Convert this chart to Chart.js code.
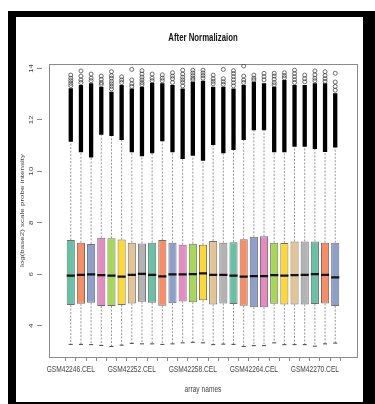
<!DOCTYPE html>
<html><head><meta charset="utf-8">
<script src="https://cdn.jsdelivr.net/npm/chart.js@4.4.1/dist/chart.umd.min.js"></script>
<style>
html,body{margin:0;padding:0;background:#fff;width:375px;height:404px;overflow:hidden;}
#outer{position:absolute;left:8px;top:11px;width:367px;height:393px;background:#000;}
#inner{position:absolute;left:16px;top:17px;width:347px;height:385px;background:#fff;}
#wrap{position:absolute;left:0;top:0;width:375px;height:404px;}
</style></head><body>
<div id="outer"></div><div id="inner"></div>
<div id="wrap"><canvas id="c" width="375" height="404"></canvas></div>
<script>
const arrayNames = ['GSM42246.CEL','GSM42247.CEL','GSM42248.CEL','GSM42249.CEL','GSM42250.CEL','GSM42251.CEL',
 'GSM42252.CEL','GSM42253.CEL','GSM42254.CEL','GSM42255.CEL','GSM42256.CEL','GSM42257.CEL',
 'GSM42258.CEL','GSM42259.CEL','GSM42260.CEL','GSM42261.CEL','GSM42262.CEL','GSM42263.CEL',
 'GSM42264.CEL','GSM42265.CEL','GSM42266.CEL','GSM42267.CEL','GSM42268.CEL','GSM42269.CEL',
 'GSM42270.CEL','GSM42271.CEL','GSM42272.CEL'];
const shownLabelIndex = [0, 6, 12, 18, 24];
const q1 = [4.81,4.86,4.90,4.77,4.77,4.81,4.87,4.94,4.90,4.78,4.88,4.95,4.92,4.99,4.83,4.87,4.85,4.78,4.72,4.72,4.86,4.83,4.83,4.83,4.85,4.87,4.77];
const median = [5.95,5.98,6.00,5.97,5.95,5.91,5.98,6.02,5.98,5.92,6.00,6.00,6.01,6.04,5.98,5.98,5.95,5.91,5.93,5.93,5.97,5.95,5.97,5.98,6.01,5.98,5.88];
const q3 = [7.33,7.23,7.18,7.42,7.40,7.35,7.23,7.20,7.23,7.33,7.23,7.15,7.19,7.15,7.30,7.23,7.25,7.36,7.46,7.48,7.23,7.22,7.28,7.28,7.28,7.23,7.23];
const whiskerLow = [3.28,3.28,3.27,3.24,3.20,3.25,3.32,3.30,3.30,3.28,3.30,3.34,3.36,3.34,3.27,3.29,3.28,3.20,3.23,3.23,3.34,3.27,3.27,3.27,3.21,3.30,3.33];
const whiskerHigh = [11.15,10.74,10.54,11.42,11.37,11.22,10.74,10.59,10.70,11.17,10.74,10.48,10.61,10.41,11.02,10.70,10.83,11.22,11.60,11.60,10.74,10.74,10.96,10.96,10.87,10.75,10.93];
const denseOutlierTop = [13.23,13.35,13.42,13.29,13.09,13.35,13.22,13.29,13.44,13.42,13.35,13.22,13.48,13.52,13.29,13.29,13.22,13.35,13.48,13.42,13.29,13.55,13.35,13.35,13.42,13.42,13.03];
const sparseOutliers = [
 [13.74,13.62,13.52,13.42,13.33],
 [13.90,13.70,13.55,13.45],
 [13.78,13.62,13.52],
 [13.70,13.57,13.45,13.38],
 [13.87,13.72,13.62,13.50,13.40,13.30,13.20],
 [13.67,13.55,13.45],
 [13.96,13.55,13.40,13.30],
 [13.91,13.78,13.66,13.55,13.45,13.37],
 [13.78,13.62,13.52],
 [13.75,13.62,13.52],
 [13.83,13.70,13.60,13.45],
 [13.93,13.78,13.66,13.55,13.45,13.32],
 [13.93,13.82,13.72,13.62,13.55],
 [13.93,13.82,13.72,13.62],
 [13.74,13.60,13.50,13.40],
 [13.96,13.60,13.48,13.38],
 [13.91,13.80,13.68,13.56,13.44,13.32],
 [14.09,13.70,13.55,13.45],
 [13.74,13.62,13.55],
 [13.81,13.68,13.55],
 [13.81,13.70,13.58,13.45,13.36],
 [13.83,13.72,13.63],
 [13.93,13.80,13.68,13.56,13.45],
 [13.74,13.60,13.48],
 [13.90,13.75,13.62,13.52],
 [13.87,13.72,13.60,13.50],
 [13.81,13.47,13.30,13.15]
];
const yTickValues = [4, 6, 8, 10, 12, 14];
const yTickLabels = ['4', '6', '8', '10', '12', '14'];
const palette = ['#66C2A5','#FC8D62','#8DA0CB','#E78AC3','#A6D854','#FFD92F','#E5C494','#B3B3B3'];

const FONT = "'Liberation Sans', Arial, sans-serif";
Chart.defaults.font.family = FONT;
const SQUEEZE = 0.78;  // the reference text is horizontally condensed

const canvas = document.getElementById('c');
const c2d = canvas.getContext('2d');
const rawFill = c2d.fillText.bind(c2d);
c2d.fillText = function (text, x, y, maxWidth) {
  const t = this.getTransform();
  this.save();
  this.translate(x, y);
  if (Math.abs(t.b) > 0.5) this.scale(1, SQUEEZE); else this.scale(SQUEEZE, 1);
  if (maxWidth === undefined) rawFill(text, 0, 0);
  else rawFill(text, 0, 0, maxWidth / SQUEEZE);
  this.restore();
};

const xPos = arrayNames.map((_, i) => i + 1);
const whiskerPts = [], capPts = [], medianPts = [], densePts = [], sparsePts = [];
xPos.forEach((x, i) => {
  whiskerPts.push({x, y: q3[i]}, {x, y: whiskerHigh[i]}, {x, y: null},
                  {x, y: q1[i]}, {x, y: whiskerLow[i]}, {x, y: null});
  capPts.push({x: x - 0.2, y: whiskerLow[i]}, {x: x + 0.2, y: whiskerLow[i]}, {x, y: null});
  medianPts.push({x: x - 0.4, y: median[i]}, {x: x + 0.4, y: median[i]}, {x, y: null});
  densePts.push({x, y: whiskerHigh[i]}, {x, y: denseOutlierTop[i]}, {x, y: null});
  sparseOutliers[i].forEach(v => sparsePts.push({x, y: v}));
});

const decor = {
  id: 'decor',
  beforeDatasetsDraw(chart) {
    const {ctx, chartArea: a} = chart;
    ctx.save();
    ctx.strokeStyle = '#8a8a8a'; ctx.lineWidth = 1;
    ctx.strokeRect(Math.round(a.left) + 0.5, Math.round(a.top) + 0.5,
                   Math.round(a.right - a.left), Math.round(a.bottom - a.top));
    ctx.restore();
  },
  afterDraw(chart) {
    const {ctx} = chart;
    const ys = chart.scales.y, yt = chart.scales.y2;
    ctx.save();
    ctx.font = '8px ' + FONT;
    ctx.fillStyle = '#444';
    ctx.textAlign = 'center'; ctx.textBaseline = 'middle';
    yTickValues.forEach((v, i) => {
      ctx.save();
      ctx.translate(yt.right - 11, ys.getPixelForValue(v));
      ctx.rotate(-Math.PI / 2);
      ctx.fillText(yTickLabels[i], 0, 0);
      ctx.restore();
    });
    ctx.restore();
  }
};

const Y_MIN = 2.79, Y_MAX = 14.17;
new Chart(canvas, {
  type: 'bar',
  data: {
    datasets: [
      {type: 'scatter', data: whiskerPts, showLine: true, borderColor: '#7a7a7a', borderWidth: 0.8,
       borderDash: [2, 1.5], pointRadius: 0, order: 6},
      {type: 'bar', data: xPos.map((x, i) => ({x, y: [q1[i], q3[i]]})),
       backgroundColor: xPos.map((_, i) => palette[i % palette.length]),
       borderColor: '#707070', borderWidth: 1, borderSkipped: false,
       barPercentage: 0.8, categoryPercentage: 1, grouped: false, order: 5},
      {type: 'scatter', data: capPts, showLine: true, borderColor: '#444', borderWidth: 1, pointRadius: 0, order: 4},
      {type: 'scatter', data: densePts, showLine: true, borderColor: '#000', borderWidth: 4.3, pointRadius: 0, order: 3},
      {type: 'scatter', data: sparsePts, pointRadius: 2, pointBorderWidth: 0.7, pointBorderColor: '#333',
       pointBackgroundColor: 'rgba(255,255,255,0)', order: 2},
      {type: 'scatter', data: medianPts, showLine: true, borderColor: '#111', borderWidth: 2.3, pointRadius: 0, order: 1}
    ]
  },
  options: {
    responsive: false, animation: false, devicePixelRatio: 1,
    layout: {padding: {left: 0, right: 18, top: 0, bottom: 0}},
    plugins: {
      legend: {display: false}, tooltip: {enabled: false},
      title: {display: true, text: 'After Normalizaion', fullSize: false, color: '#111',
              font: {size: 10, weight: 'bold'}, padding: {top: 32.5, bottom: 19.5}}
    },
    scales: {
      x: {type: 'linear', position: 'bottom', min: -0.58, max: 28.58,
          afterBuildTicks: s => { s.ticks = xPos.map(v => ({value: v})); },
          afterFit: s => { s.height = 47; },
          grid: {display: true, drawOnChartArea: false, drawTicks: true, tickLength: 4, tickColor: '#8a8a8a'},
          border: {display: false},
          ticks: {autoSkip: false, maxRotation: 0, minRotation: 0, padding: 4, color: '#444', font: {size: 8.5},
                  callback: (v, i) => shownLabelIndex.includes(i) ? arrayNames[i] : ''},
          title: {display: true, text: 'array names', color: '#444', font: {size: 8.5}, padding: {top: 0, bottom: 9}}},
      y: {type: 'linear', position: 'left', weight: 0, min: Y_MIN, max: Y_MAX,
          afterFit: s => { s.width = 7; },
          grid: {display: false}, ticks: {display: false}, border: {display: false}},
      y2: {type: 'linear', position: 'left', weight: 1, min: Y_MIN, max: Y_MAX,
           afterBuildTicks: s => { s.ticks = yTickValues.map(v => ({value: v})); },
           afterFit: s => { s.width = 42; },
           grid: {display: true, drawOnChartArea: false, drawTicks: true, tickLength: 5, tickColor: '#8a8a8a'},
           ticks: {display: false}, border: {display: false},
           title: {display: true, text: 'log(base2) scale probe intensity', color: '#444', font: {size: 8},
                   padding: {top: 17, bottom: 0}}}
    }
  },
  plugins: [decor]
});
</script>
</body></html>
